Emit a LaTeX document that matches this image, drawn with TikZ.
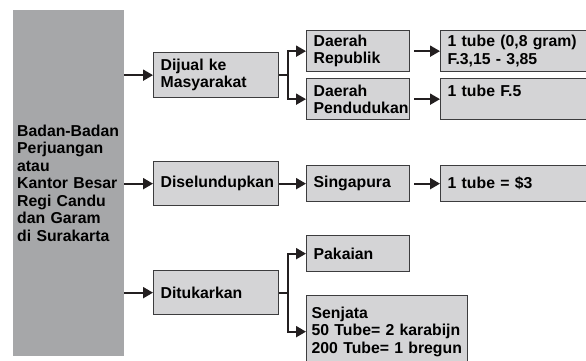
\documentclass[tikz,border=0pt]{standalone}
\usepackage{fontspec}
\setmainfont{Liberation Sans}
\usetikzlibrary{arrows.meta}
\hfuzz=10pt
\hyphenpenalty=10000
\exhyphenpenalty=10000

\begin{document}
\begin{tikzpicture}[x=1pt,y=-1pt,
    txt/.style={font=\fontsize{15.8}{17.5}\selectfont\bfseries},
    box/.style={txt, draw={rgb,255:red,60; green,60; blue,62}, line width=1.3pt, fill={rgb,255:red,212; green,212; blue,214}, anchor=north west, inner xsep=7pt, inner ysep=0pt, align=left},
    arr/.style={line width=2pt, color={rgb,255:red,35; green,31; blue,32}, -{Triangle[length=10pt,width=11pt]}}]
    \useasboundingbox (0,0) rectangle (586,360);
    \clip (0,0) rectangle (586,360);

    % source
    \node[txt, fill={rgb,255:red,166; green,167; blue,169}, anchor=north west, inner xsep=4pt, inner ysep=0pt, text width=103pt, minimum height=346pt, align=left] (src) at (13,10) {Badan-Badan\\Perjuangan\\atau\\Kantor Besar\\Regi Candu\\dan Garam\\di Surakarta};

    % column 1
    \node[box, text width=111pt, minimum height=45pt] (dijual) at (153,52) {Dijual ke\\Masyarakat};
    \node[box, text width=111pt, minimum height=44pt] (disel) at (153,161) {Diselundupkan};
    \node[box, text width=111pt, minimum height=44pt] (ditukar) at (153,270) {Ditukarkan};

    % column 2
    \node[box, text width=89pt, minimum height=41pt] (republik) at (306,30) {Daerah\\Republik};
    \node[box, text width=89pt, minimum height=41pt] (pendudukan) at (306,78) {Daerah\\Pendudukan};
    \node[box, text width=89pt, minimum height=36pt] (singapura) at (306,165) {Singapura};
    \node[box, text width=89pt, minimum height=36pt] (pakaian) at (306,235) {Pakaian};
    \node[box, inner xsep=5pt, text width=151pt, minimum height=72pt] (senjata) at (306,295) {Senjata\\50 Tube= 2 karabijn\\200~Tube=~1~bregun};

    % column 3
    \node[box, text width=136pt, minimum height=41pt] (hargarep) at (440,30) {1 tube (0,8 gram)\\F.3,15 - 3,85};
    \node[box, text width=136pt, minimum height=41pt] (hargapen) at (440,78) {1 tube F.5\\\mbox{}};
    \node[box, text width=136pt, minimum height=36pt] (hargasin) at (440,165) {1 tube = \$3};

    % arrows
    \draw[arr] (src.east |- dijual.west) -- (dijual.west);
    \draw[arr] (src.east |- disel.west) -- (disel.west);
    \draw[arr] (src.east |- ditukar.west) -- (ditukar.west);

    \draw[arr] (dijual.east) -- ++(9,0) |- (republik.west);
    \draw[arr] (dijual.east) -- ++(9,0) |- (pendudukan.west);
    \draw[arr] (disel.east) -- (singapura.west);
    \draw[arr] (ditukar.east) -- ++(9,0) |- (pakaian.west);
    \draw[arr] (ditukar.east) -- ++(9,0) |- (senjata.west);

    \draw[arr, shorten <=4pt] (republik.east) -- (hargarep.west);
    \draw[arr, shorten <=4pt] (pendudukan.east) -- (hargapen.west);
    \draw[arr, shorten <=4pt] (singapura.east) -- (hargasin.west);
\end{tikzpicture}
\end{document}
